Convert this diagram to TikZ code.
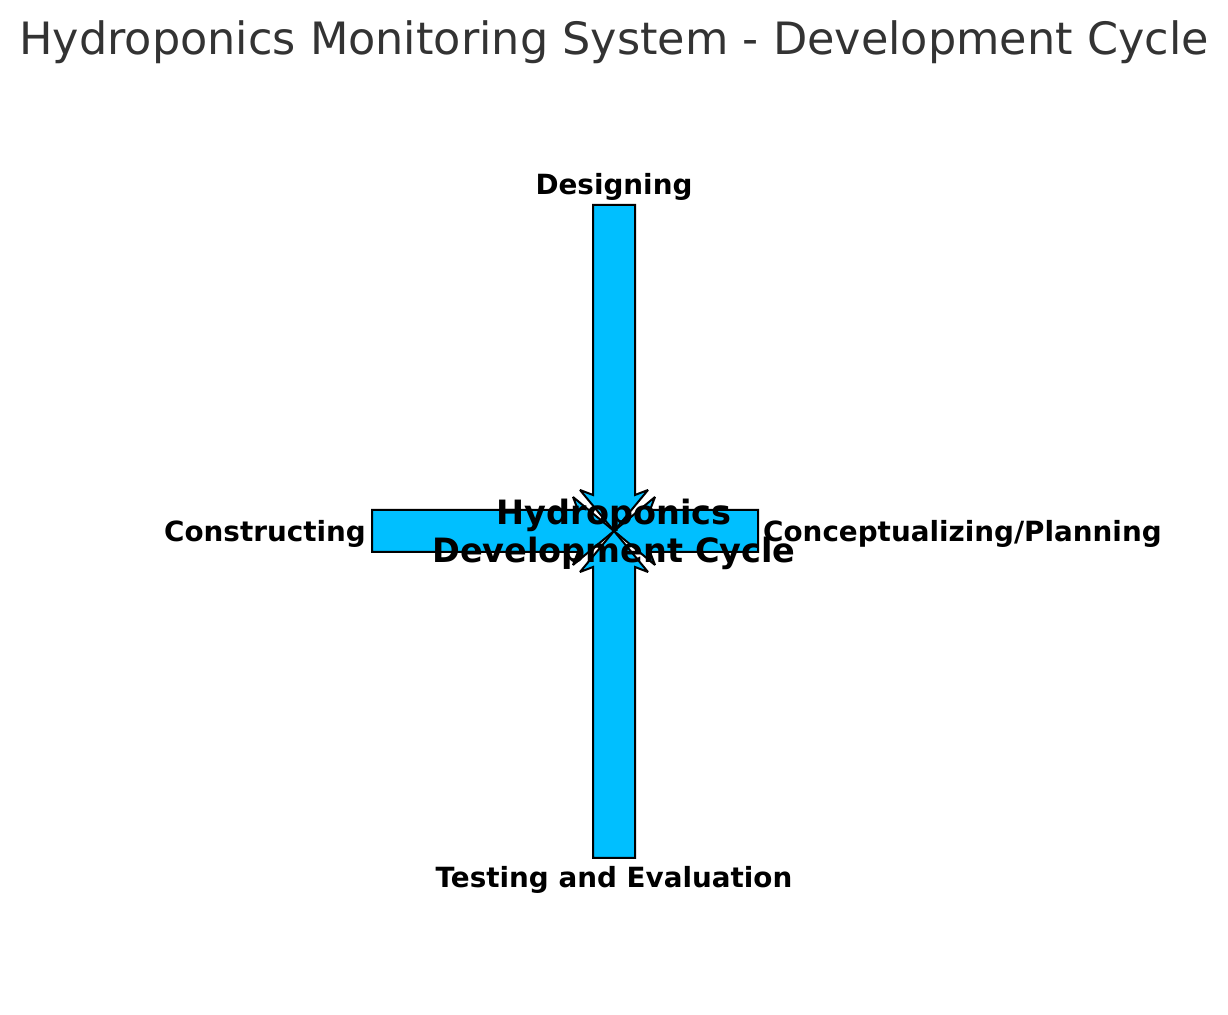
\documentclass[tikz,border=0pt]{standalone}
\usepackage{fontspec}
\setmainfont{DejaVu Sans}
\usetikzlibrary{calc}
\definecolor{cyclefill}{HTML}{00BFFF}
\definecolor{titlegrey}{HTML}{333333}

\begin{document}
\begin{tikzpicture}[x=1pt,y=1pt,
  phasearrow/.style={draw=black,line width=2pt,fill=cyclefill,line join=miter,miter limit=3},
  phaselabel/.style={inner sep=0pt,font=\bfseries\fontsize{27.8}{33}\selectfont},
  hublabel/.style={inner sep=0pt,align=center,font=\bfseries\fontsize{33.5}{38}\selectfont},
  titlelabel/.style={inner sep=0pt,text=titlegrey,font=\fontsize{44.55}{53}\selectfont}]
\useasboundingbox (0,0) rectangle (1228,1014);
% centre and the four ends of the cycle
\coordinate (hub) at (614,483);
\coordinate (tailR) at (758,483);
\coordinate (tailT) at (614,809);
\coordinate (tailL) at (372,483);
\coordinate (tailB) at (614,156);
% arrows, all pointing into the centre (heads swept back a little)
\foreach \t in {tailR,tailT,tailL,tailB}{
  \coordinate (w) at ($(hub)!41pt!(\t)$);
  \coordinate (j) at ($(hub)!36pt!(\t)$);
  \draw [phasearrow] (hub) -- ($(w)!34pt!90:(hub)$) -- ($(j)!21pt!90:(hub)$)
    -- ($(\t)!21pt!90:(hub)$) -- ($(\t)!21pt!-90:(hub)$)
    -- ($(j)!21pt!-90:(hub)$) -- ($(w)!34pt!-90:(hub)$) -- cycle;
}
% labels
\node [phaselabel, anchor=west] (planning) at (763,480) {Conceptualizing/Planning};
\node [phaselabel] (designing) at (614,827) {Designing};
\node [phaselabel, anchor=east] (constructing) at (366,480) {Constructing};
\node [phaselabel] (testing) at (614,134) {Testing and Evaluation};
\node [hublabel] (hubtext) at ($(hub)+(0,-3)$) {Hydroponics\\Development Cycle};
\node [titlelabel] (title) at (614,972) {Hydroponics Monitoring System - Development Cycle};
\end{tikzpicture}
\end{document}
